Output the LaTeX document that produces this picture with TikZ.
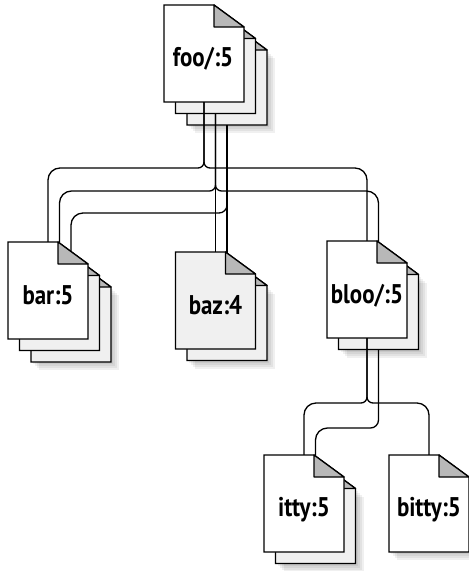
\documentclass[tikz,border=0pt]{standalone}
\usepackage{fontspec}
\newfontfamily\lblfont[FakeStretch=0.85]{PT Sans}
\usetikzlibrary{calc}
\tikzset{
  pg/.style={rectangle, minimum width=80pt, minimum height=97pt, inner sep=0pt, outer sep=0pt, anchor=north west},
  lbl/.style={font=\lblfont\bfseries\fontsize{27}{27}\selectfont, inner sep=0pt},
  conn/.style={line width=1.3pt, draw=black},
  outline/.style={line width=1.3pt, draw=black, line join=miter},
  foldfill/.style={fill=black!28},
}
\colorlet{backpage}{black!6}
\newcommand\pageshape[2]{%
  \filldraw[outline, fill=#2] (#1.north west) -- ([xshift=-30pt]#1.north east) -- ([yshift=-22pt]#1.north east) -- (#1.south east) -- (#1.south west) -- cycle;
  \filldraw[outline, foldfill, line join=round] ([xshift=-30pt]#1.north east) -- ([xshift=-30pt,yshift=-22pt]#1.north east) -- ([yshift=-22pt]#1.north east) -- cycle;}
\newcommand\pageshadow[1]{%
  \foreach \s in {2,4,6,8}{\fill[black, opacity=0.06] ([xshift=\s pt,yshift=-\s pt]#1.south west) rectangle ([xshift=\s pt,yshift=-\s pt-22pt]#1.north east);}}
\begin{document}
\begin{tikzpicture}[x=1pt,y=-1pt]
\useasboundingbox (0,0) rectangle (469,571);
% page nodes
\node[pg] (foo3) at (187,28) {};
\node[pg] (foo2) at (175.5,16.5) {};
\node[pg] (foo) at (164,5) {};
\node[pg] (bar3) at (31,265) {};
\node[pg] (bar2) at (19.5,253.5) {};
\node[pg] (bar) at (8,242) {};
\node[pg] (baz2) at (187,263.5) {};
\node[pg] (baz) at (175.5,252) {};
\node[pg] (bloo2) at (338.5,252.5) {};
\node[pg] (bloo) at (327,241) {};
\node[pg] (itty2) at (275.5,466.5) {};
\node[pg] (itty) at (264,455) {};
\node[pg] (bitty) at (389,455) {};
\coordinate (h1) at (0,168);
\coordinate (h2) at (0,191);
\coordinate (h3) at (0,213);
\coordinate (h4) at (0,403);
\coordinate (h5) at (0,428);
% foo stack
\pageshadow{foo3}
\pageshape{foo3}{backpage}
\pageshape{foo2}{backpage}
\pageshape{foo}{white}
% foo connectors
\draw[conn] (foo.south) {[rounded corners=6pt] -- (foo.south |- h1) -- ++(-20,0)} [rounded corners=12pt] -- (bar.north |- h1) -- (bar.north);
\draw[conn] (foo.south) {[rounded corners=6pt] -- (foo.south |- h1) -- ++(20,0)} [rounded corners=12pt] -- (bloo.north |- h1) -- (bloo.north);
\draw[conn] (foo2.south) {[rounded corners=6pt] -- (foo2.south |- h2) -- ++(-20,0)} [rounded corners=12pt] -- (bar2.north |- h2) -- (bar2.north);
\draw[conn] (foo2.south) {[rounded corners=6pt] -- (foo2.south |- h2) -- ++(20,0)} [rounded corners=12pt] -- (bloo2.north |- h2) -- (bloo2.north);
\draw[conn] (foo2.south) -- (baz.north);
\draw[conn] (foo3.south) {[rounded corners=8pt] -- (foo3.south |- h3) -- ++(-20,0)} [rounded corners=12pt] -- (bar3.north |- h3) -- (bar3.north);
\draw[conn] (foo3.south) -- (baz2.north);
% bar, baz, bloo stacks
\pageshadow{bar3}
\pageshape{bar3}{backpage}
\pageshape{bar2}{backpage}
\pageshape{bar}{white}
\pageshadow{baz2}
\pageshape{baz2}{backpage}
\pageshape{baz}{backpage}
\pageshadow{bloo2}
\pageshape{bloo2}{backpage}
\pageshape{bloo}{white}
% bloo connectors
\draw[conn] (bloo.south) {[rounded corners=6pt] -- (bloo.south |- h4) -- ++(-20,0)} [rounded corners=12pt] -- (itty.north |- h4) -- (itty.north);
\draw[conn] (bloo.south) {[rounded corners=6pt] -- (bloo.south |- h4) -- ++(20,0)} [rounded corners=12pt] -- (bitty.north |- h4) -- (bitty.north);
\draw[conn] (bloo2.south) {[rounded corners=8pt] -- (bloo2.south |- h5) -- ++(-20,0)} [rounded corners=12pt] -- (itty2.north |- h5) -- (itty2.north);
% itty, bitty
\pageshadow{itty2}
\pageshape{itty2}{backpage}
\pageshape{itty}{white}
\pageshadow{bitty}
\pageshape{bitty}{white}
% labels
\node[lbl] (fooL) at ([xshift=-1pt,yshift=-5pt]foo.center) {foo/:5};
\node[lbl] (barL) at ([yshift=-5pt]bar.center) {bar:5};
\node[lbl] (bazL) at ([yshift=-5pt]baz.center) {baz:4};
\node[lbl] (blooL) at ([yshift=-6pt]bloo.center) {bloo/:5};
\node[lbl] (ittyL) at ([yshift=-6pt]itty.center) {itty:5};
\node[lbl] (bittyL) at ([yshift=-6pt]bitty.center) {bitty:5};
\end{tikzpicture}
\end{document}
